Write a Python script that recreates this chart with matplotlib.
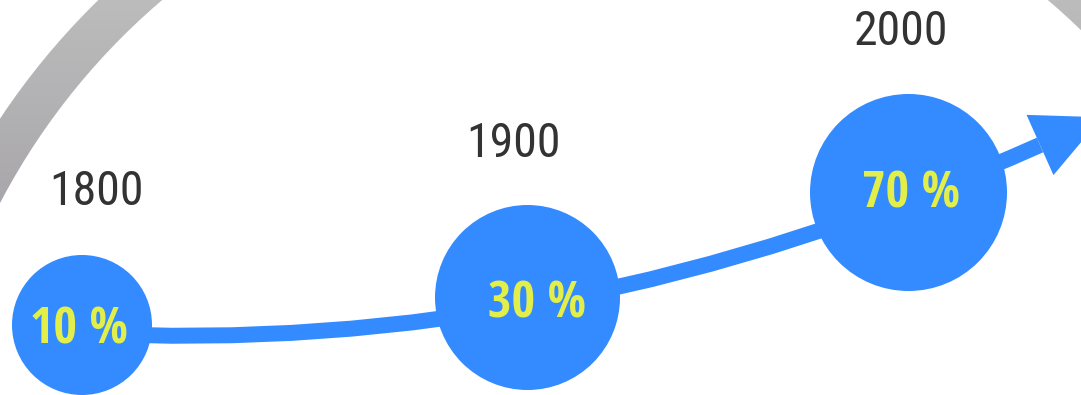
import numpy as np
import matplotlib
matplotlib.use("Agg")
import matplotlib.pyplot as plt
from matplotlib import font_manager
from matplotlib.patches import Circle, Wedge, PathPatch, Polygon
from matplotlib.path import Path

# --- data -------------------------------------------------------------
years = ["1800", "1900", "2000"]
shares = [10, 30, 70]          # percent
share_labels = [f"{v} %" for v in shares]

# --- layout (canvas pixels, origin top-left) --------------------------
W, H = 1081, 395
node_x = [82.0, 527.5, 908.5]
node_y = [325.0, 297.5, 192.5]
node_r = [70.0, 92.5, 98.5]
year_x = [96.5, 513.5, 900.5]
year_base = [205.0, 157.0, 45.0]
share_x = [78.5, 536.5, 910.5]
share_base = [344.0, 317.0, 207.0]

# trend curve (quadratic Bezier) and arrow head geometry
curve_start = (82.0, 333.0)
curve_ctrl = (561.0, 359.0)
curve_end = (1040.0, 145.0)
head_len, head_half = 68.0, 33.0

# decorative ring behind the timeline
ring_center = (605.0, 520.0)
ring_outer, ring_width = 726.0, 43.0

BLUE = "#338bff"
YELLOW = "#e2ee4a"
DARK = "#333333"


def pick_font(names):
    for n in names:
        try:
            font_manager.findfont(font_manager.FontProperties(family=n),
                                  fallback_to_default=False)
            return n
        except Exception:
            continue
    return "DejaVu Sans"


year_font = pick_font(["Roboto Condensed", "Roboto", "DejaVu Sans"])
share_font = pick_font(["Open Sans Condensed", "Fira Sans Condensed",
                        "Roboto Condensed", "DejaVu Sans"])

fig = plt.figure(figsize=(W / 100, H / 100), dpi=100)
ax = fig.add_axes([0, 0, 1, 1])
ax.set_xlim(0, W)
ax.set_ylim(H, 0)
ax.axis("off")

# gray ring with a soft vertical gradient
ring = Wedge(ring_center, ring_outer, 0, 360, width=ring_width,
             facecolor="none", edgecolor="none")
ax.add_patch(ring)
grad_y = np.linspace(0, H, 200)
t = np.clip(grad_y / 200.0, 0, 1)
top = np.array([188, 188, 188]) / 255
bot = np.array([169, 167, 171]) / 255
cols = top[None, :] * (1 - t[:, None]) + bot[None, :] * t[:, None]
img = np.repeat(cols[:, None, :], 2, axis=1)
im = ax.imshow(img, extent=(0, W, H, 0), aspect="auto",
               interpolation="bilinear", zorder=1)
im.set_clip_path(ring)

# trend curve
path = Path([curve_start, curve_ctrl, curve_end],
            [Path.MOVETO, Path.CURVE3, Path.CURVE3])
ax.add_patch(PathPatch(path, facecolor="none", edgecolor=BLUE,
                       lw=11.5, capstyle="butt", zorder=2))

# arrow head aligned with the curve's end tangent
p2 = np.array(curve_end)
d = p2 - np.array(curve_ctrl)
d /= np.hypot(*d)
n = np.array([-d[1], d[0]])
tip = p2 + head_len * d
head = Polygon([p2 + head_half * n, tip, p2 - head_half * n],
               closed=True, facecolor=BLUE, edgecolor="none", zorder=2)
ax.add_patch(head)

# nodes with share labels and year captions
for i in range(len(years)):
    ax.add_patch(Circle((node_x[i], node_y[i]), node_r[i],
                        facecolor=BLUE, edgecolor="none", zorder=3))
    ax.text(share_x[i], share_base[i], share_labels[i], ha="center",
            va="baseline", color=YELLOW, fontsize=36.5, fontweight="bold",
            family=share_font, zorder=4)
    ax.text(year_x[i], year_base[i], years[i], ha="center",
            va="baseline", color=DARK, fontsize=34.5,
            family=year_font, zorder=4)

fig.savefig("out.png", dpi=100, facecolor="white")
